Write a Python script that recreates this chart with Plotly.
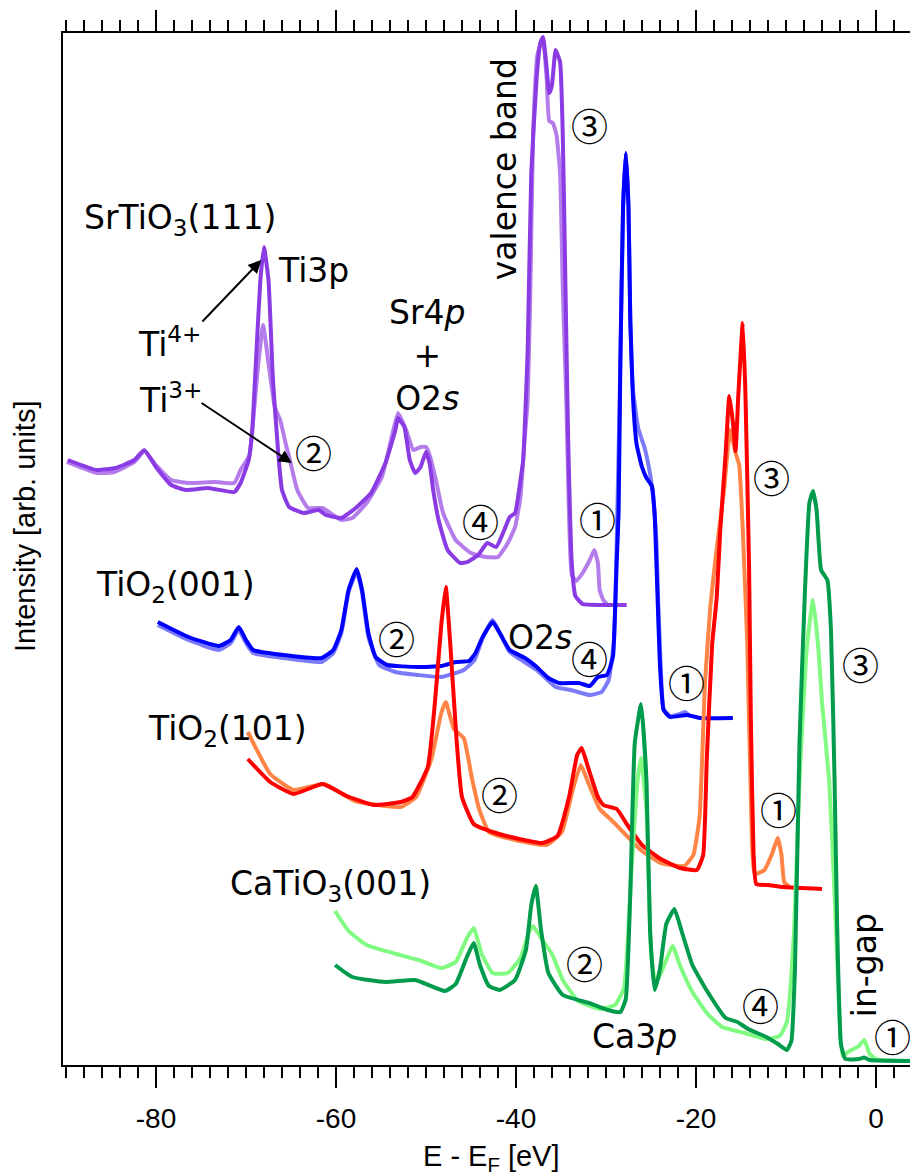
import plotly.graph_objects as go

# ---------------- data (E - E_F in eV, intensity in arb. units, offset as plotted) -------------
sto_ti4_E = [-89.8, -86.6, -84.5, -82.4, -81.3, -80.0, -78.3, -76.7, -74.2, -71.3, -70.6, -69.7, -69.3, -69.0,
             -68.4, -68.0, -67.5, -67.0, -66.4, -66.0, -65.2, -63.6, -61.9, -61.1, -59.4, -57.8, -56.1, -54.5,
             -53.4, -53.1, -52.4, -51.8, -51.2, -50.6, -50.0, -49.6, -49.2, -48.6, -47.6, -46.2, -45.4, -44.2,
             -43.2, -42.2, -41.3, -40.7, -40.1, -39.5, -39.2, -38.7, -38.3, -37.7, -37.3, -37.0, -36.7, -36.3,
             -36.0, -35.6, -35.1, -34.8, -34.5, -34.2, -33.8, -33.4, -32.6, -30.7, -27.7]
sto_ti4_I = [60.5, 59.5, 59.7, 60.5, 61.5, 59.8, 58.0, 57.5, 57.7, 57.3, 58.2, 60.5, 63.5, 68.5,
             78.5, 81.8, 78.5, 68.5, 61.0, 57.5, 55.8, 55.2, 55.5, 55.0, 54.7, 55.7, 57.2, 60.2,
             63.5, 64.7, 63.8, 60.5, 59.2, 59.8, 61.3, 60.2, 57.5, 54.5, 51.5, 50.2, 50.3, 51.0,
             52.2, 51.8, 53.5, 54.8, 55.2, 58.5, 60.5, 71.5, 89.2, 98.8, 102.2, 102.8, 100.7, 97.2,
             98.0, 101.5, 100.3, 93.0, 77.7, 62.4, 50.2, 46.9, 46.1, 46.0, 46.0]

sto_ti3_E = [-89.9, -86.6, -84.6, -82.4, -81.3, -80.0, -78.3, -76.5, -73.4, -71.3, -70.6, -69.9, -69.6, -69.1,
             -68.7, -68.1, -67.5, -66.8, -66.2, -65.5, -65.2, -64.3, -63.1, -61.5, -59.4, -58.2, -56.6, -54.9,
             -53.7, -53.1, -52.2, -51.4, -50.6, -50.0, -49.6, -48.9, -48.1, -46.7, -45.0, -43.4, -42.0, -40.9,
             -40.1, -39.5, -39.1, -38.7, -38.4, -38.1, -37.6, -37.0, -36.6, -36.3, -35.9, -35.5, -35.1, -34.8,
             -34.4, -34.1, -33.8, -33.3, -32.6, -31.8, -31.3, -30.9, -30.7, -30.3, -29.9]
sto_ti3_I = [60.3, 59.2, 59.3, 60.3, 61.4, 60.0, 58.5, 58.2, 58.3, 58.2, 59.5, 60.5, 61.0, 65.5,
             69.5, 74.0, 70.2, 65.8, 64.5, 61.8, 60.8, 57.5, 55.7, 55.7, 54.5, 54.7, 56.2, 58.8,
             63.2, 65.2, 63.5, 61.5, 61.8, 61.8, 61.0, 58.5, 55.2, 52.5, 51.2, 50.8, 50.8, 52.2,
             53.8, 56.8, 61.8, 66.5, 77.7, 93.0, 101.1, 102.6, 98.8, 94.4, 94.2, 93.0, 89.2, 77.7,
             66.2, 54.8, 49.0, 48.4, 49.2, 50.5, 51.5, 50.2, 47.5, 46.5, 46.1]

tio2_001_a_E = [-79.8, -76.4, -73.0, -71.7, -70.8, -70.0, -69.2, -65.8, -61.6, -60.3, -59.4, -58.6, -57.7, -57.1,
                -56.4, -55.6, -54.3, -50.9, -48.3, -46.7, -45.2, -44.5, -43.7, -42.6, -41.8, -40.7, -39.0, -37.7,
                -36.4, -35.2, -33.0, -31.8, -30.9, -29.9, -29.4, -29.2, -28.8, -28.6, -28.4, -28.1, -27.8, -27.5,
                -27.3, -27.0, -26.6, -26.0, -25.5, -24.9, -24.6, -24.3, -24.0, -23.6, -22.9, -21.0, -19.6, -15.9]
tio2_001_a_I = [44.3, 42.8, 41.9, 42.5, 43.8, 42.5, 41.5, 41.0, 40.7, 41.5, 43.5, 47.5, 49.6, 47.5,
                43.2, 40.8, 40.0, 39.8, 39.9, 40.3, 40.4, 41.2, 42.8, 44.3, 43.2, 41.5, 40.7, 39.8,
                38.7, 38.2, 38.2, 37.9, 38.8, 39.0, 40.2, 41.0, 50.5, 55.2, 70.5, 85.8, 91.2, 85.8,
                74.4, 66.7, 62.1, 59.8, 58.7, 57.9, 55.2, 47.6, 39.9, 35.5, 34.8, 35.0, 34.7, 34.7]

tio2_001_b_E = [-79.8, -76.4, -73.0, -71.7, -70.8, -70.0, -69.2, -65.8, -61.6, -60.3, -59.4, -58.6, -57.7, -57.1,
                -56.4, -55.2, -53.4, -50.9, -48.3, -45.8, -44.6, -43.7, -42.6, -41.8, -40.7, -37.7, -35.6, -33.9,
                -31.8, -30.5, -29.7, -29.1, -28.8, -28.4, -28.1, -27.8, -27.5, -27.3, -27.0, -26.4, -25.7, -25.1,
                -24.8, -24.4, -24.2, -23.9, -23.6, -22.9, -21.8, -21.2, -20.7]
tio2_001_b_I = [44.0, 42.5, 41.5, 42.2, 43.5, 42.2, 41.2, 40.7, 40.3, 41.2, 43.2, 47.3, 49.3, 47.3,
                42.8, 40.0, 39.3, 39.0, 38.8, 39.5, 40.5, 42.7, 44.5, 43.2, 41.3, 39.5, 37.8, 37.5,
                37.0, 37.3, 38.5, 42.5, 52.5, 70.3, 85.7, 91.2, 85.9, 75.0, 67.5, 63.6, 61.7, 59.1,
                57.1, 52.5, 46.5, 39.5, 35.6, 34.9, 35.1, 35.3, 34.9]

tio2_101_a_E = [-69.8, -67.3, -64.7, -61.5, -58.8, -55.8, -52.8, -51.5, -49.8, -49.0, -48.3, -47.8, -47.3, -46.6,
                -46.0, -44.7, -42.6, -40.1, -37.1, -35.4, -34.1, -33.2, -32.7, -32.0, -30.9, -30.3, -28.8, -27.7,
                -26.0, -23.9, -21.8, -19.9, -19.2, -18.8, -18.2, -17.7, -17.3, -16.7, -16.3, -15.9, -15.6, -15.3,
                -14.8, -14.5, -14.1, -13.9, -13.6, -13.3, -12.0, -10.3, -6.0]
tio2_101_a_I = [30.6, 28.3, 27.1, 28.1, 26.9, 26.0, 26.3, 26.8, 29.8, 36.3, 44.0, 47.8, 42.1, 32.5,
                26.8, 24.1, 23.3, 22.7, 22.2, 22.9, 26.8, 31.0, 31.7, 29.8, 26.8, 26.0, 25.6, 24.1,
                22.0, 20.6, 19.7, 19.5, 21.0, 30.6, 42.1, 46.7, 53.5, 61.2, 66.9, 64.3, 61.4, 66.9,
                74.2, 66.9, 49.7, 34.4, 21.0, 18.1, 18.0, 17.8, 17.6]

tio2_101_b_E = [-69.8, -67.3, -64.7, -61.3, -57.9, -52.8, -51.1, -49.4, -48.3, -47.8, -46.9, -45.8, -44.9, -44.1,
                -43.0, -40.1, -36.6, -34.9, -33.7, -32.8, -32.0, -30.7, -29.4, -28.1, -26.0, -23.9, -21.3, -20.3,
                -19.6, -19.0, -18.4, -17.7, -16.9, -16.2, -15.6, -15.2, -14.8, -14.3, -13.9, -13.5, -12.4, -11.6,
                -10.9, -10.5, -10.2, -9.6]
tio2_101_b_I = [33.3, 29.1, 27.5, 28.1, 26.4, 25.8, 26.8, 30.6, 35.2, 36.3, 33.6, 32.7, 28.7, 25.6,
                23.3, 22.5, 22.0, 23.3, 27.5, 30.0, 28.3, 25.6, 24.5, 23.3, 21.4, 20.2, 19.9, 21.0,
                24.8, 38.2, 45.9, 51.6, 57.4, 63.5, 61.2, 60.0, 53.5, 42.1, 26.8, 19.1, 19.5, 21.0,
                22.7, 21.0, 18.3, 17.8]

cto_a_E = [-60.1, -58.2, -54.5, -51.2, -47.9, -46.7, -45.5, -44.7, -44.0, -43.0, -41.8, -40.1, -38.9, -38.3,
           -37.8, -37.2, -36.4, -34.8, -31.9, -29.8, -28.4, -27.8, -27.3, -26.8, -26.1, -25.5, -25.1, -24.6,
           -24.0, -23.3, -22.4, -21.6, -20.4, -18.7, -16.7, -15.4, -14.2, -12.2, -10.9, -9.9, -9.4, -9.0,
           -8.5, -7.9, -7.4, -7.0, -6.6, -6.1, -5.4, -5.0, -4.6, -4.3, -3.9, -3.4, -1.9, -1.3, -0.7, 3.8]
cto_a_I = [10.0, 8.8, 8.3, 8.5, 7.4, 8.1, 10.7, 12.2, 10.0, 7.9, 7.5, 8.5, 11.5, 16.0,
           17.9, 13.4, 9.2, 7.0, 6.2, 5.5, 5.3, 6.6, 17.1, 32.2, 36.1, 28.4, 13.4, 7.5,
           9.6, 14.1, 15.6, 13.4, 10.0, 7.3, 4.7, 4.3, 3.6, 2.8, 2.1, 1.5, 2.4, 9.6,
           32.2, 47.2, 56.2, 57.4, 55.5, 49.5, 48.5, 43.5, 28.4, 13.4, 2.1, 0.6, 0.6, 0.75, 0.5, 0.4]

cto_b_E = [-60.1, -58.6, -56.6, -53.3, -50.8, -48.3, -46.7, -45.5, -44.7, -43.8, -42.6, -40.9, -39.5, -38.5,
           -38.1, -37.0, -36.0, -34.8, -33.1, -30.7, -29.0, -28.0, -27.2, -26.5, -26.1, -25.5, -25.0, -24.5,
           -23.7, -22.6, -21.8, -20.4, -18.7, -17.1, -14.6, -12.2, -10.7, -9.9, -9.1, -8.5, -7.7, -7.0,
           -6.4, -6.0, -5.2, -4.6, -4.1, -3.7, -3.1, -1.9, -1.3, -0.7, 0.0, 3.8]
cto_b_I = [15.4, 13.4, 12.0, 11.1, 10.5, 9.7, 10.3, 12.6, 13.7, 11.1, 9.2, 9.2, 10.7, 13.4,
           13.9, 12.4, 11.1, 8.5, 6.4, 5.6, 6.0, 7.7, 19.0, 28.4, 30.7, 25.4, 11.5, 8.1,
           9.6, 11.9, 10.0, 7.3, 5.1, 3.8, 3.2, 2.6, 2.9, 4.3, 13.4, 28.4, 41.6, 46.5,
           41.6, 36.3, 28.4, 17.1, 5.8, 0.9, 1.3, 1.9, 2.5, 1.1, 0.6, 0.4]

x_ticks = [-80, -60, -40, -20, 0]
x_ticklabels = ["-80", "-60", "-40", "-20", "0"]

# ---------------- figure ----------------
series = [
    (sto_ti3_E, sto_ti3_I, "#B47DEB"),
    (sto_ti4_E, sto_ti4_I, "#8A3BE3"),
    (tio2_001_b_E, tio2_001_b_I, "#7B7BFA"),
    (tio2_001_a_E, tio2_001_a_I, "#0000FF"),
    (tio2_101_b_E, tio2_101_b_I, "#FF8445"),
    (tio2_101_a_E, tio2_101_a_I, "#FF0000"),
    (cto_b_E, cto_b_I, "#80FA80"),
    (cto_a_E, cto_a_I, "#009B4C"),
]

fig = go.Figure()
for xs, ys, col in series:
    fig.add_trace(go.Scatter(x=xs, y=ys, mode="lines",
                             line=dict(color=col, width=4, shape="spline", smoothing=0.4),
                             showlegend=False, hoverinfo="skip"))

AF = "DejaVu Sans"
FS = 33
def txt(x, y, t, size=FS, angle=0, family=AF):
    fig.add_annotation(x=x, y=y, xref="x", yref="y", text=t, showarrow=False,
                       font=dict(family=family, size=size, color="black"),
                       xanchor="center", yanchor="middle", textangle=angle)

CF = "Noto Sans CJK JP"
CS = 37
def circ(x, y, t):
    txt(x, y, t, size=CS, family=CF)

txt(-77.3, 84.6, "SrTiO<sub>3</sub>(111)")
txt(-62.5, 79.5, "Ti3p")
txt(-78.5, 72.3, "Ti<sup>4+</sup>")
txt(-78.4, 66.7, "Ti<sup>3+</sup>")
circ(-62.5, 61.3, "②")
txt(-49.9, 71.0, "Sr4<i>p</i><br>+<br>O2<i>s</i>")
txt(-41.3, 89.6, "valence band", angle=-90)
circ(-31.8, 94.0, "③")
circ(-43.9, 54.4, "④")
circ(-30.9, 54.6, "①")

txt(-77.8, 47.9, "TiO<sub>2</sub>(001)")
circ(-53.3, 42.7, "②")
txt(-37.3, 42.8, "O2<i>s</i>")
circ(-31.8, 40.7, "④")
circ(-21.1, 38.3, "①")

txt(-72.0, 33.5, "TiO<sub>2</sub>(101)")
circ(-41.8, 27.1, "②")
circ(-11.6, 58.8, "③")
circ(-10.8, 25.6, "①")

txt(-60.6, 18.0, "CaTiO<sub>3</sub>(001)")
circ(-32.4, 10.2, "②")
txt(-26.8, 2.9, "Ca3<i>p</i>")
circ(-12.8, 6.0, "④")
circ(-1.7, 40.1, "③")
txt(-1.3, 10.0, "in-gap", angle=-90)
circ(1.8, 2.9, "①")

# arrows
for (tx, ty, hx, hy) in [(-75.0, 74.2, -68.3, 80.5), (-75.1, 66.3, -64.9, 60.2)]:
    fig.add_annotation(x=hx, y=hy, ax=tx, ay=ty, xref="x", yref="y", axref="x", ayref="y",
                       text="", showarrow=True, arrowhead=2, arrowsize=1.3, arrowwidth=2,
                       arrowcolor="black")

# axis titles
fig.add_annotation(x=(25 - 63) / 847, y=(1065 - 527) / 1032, xref="paper", yref="paper",
                   text="Intensity [arb. units]", showarrow=False, textangle=-90,
                   font=dict(family="Liberation Sans", size=29, color="black"),
                   xanchor="center", yanchor="middle")
fig.add_annotation(x=(491 - 63) / 847, y=(1065 - 1158) / 1032, xref="paper", yref="paper",
                   text="E - E<sub>F</sub> [eV]", showarrow=False,
                   font=dict(family="Liberation Sans", size=29, color="black"),
                   xanchor="center", yanchor="middle")

fig.update_layout(
    width=910, height=1176,
    margin=dict(l=63, r=0, t=33, b=111, pad=0),
    paper_bgcolor="white", plot_bgcolor="white",
    font=dict(family="Liberation Sans", size=28, color="black"),
    xaxis=dict(range=[-90.33, 3.78], showgrid=False, zeroline=False,
               showline=True, linecolor="black", linewidth=2, mirror="ticks",
               ticks="outside", ticklen=21, tickwidth=1.6, tickcolor="black",
               tickvals=x_ticks, ticktext=x_ticklabels,
               tickfont=dict(family="Liberation Sans", size=28, color="black"),
               ticklabelstandoff=6,
               minor=dict(ticks="outside", ticklen=11, tickwidth=1.6, tickcolor="black",
                          dtick=2, tick0=0, showgrid=False)),
    yaxis=dict(range=[0, 103.2], showgrid=False, zeroline=False, showline=True,
               linecolor="black", linewidth=2, mirror=False, ticks="", showticklabels=False),
)

# remove the default page margin so the 910x1176 figure fills the window exactly
fig.write_html("out.html", config={"displayModeBar": False},
               post_script="document.body.style.margin='0';document.body.style.overflow='hidden';")
